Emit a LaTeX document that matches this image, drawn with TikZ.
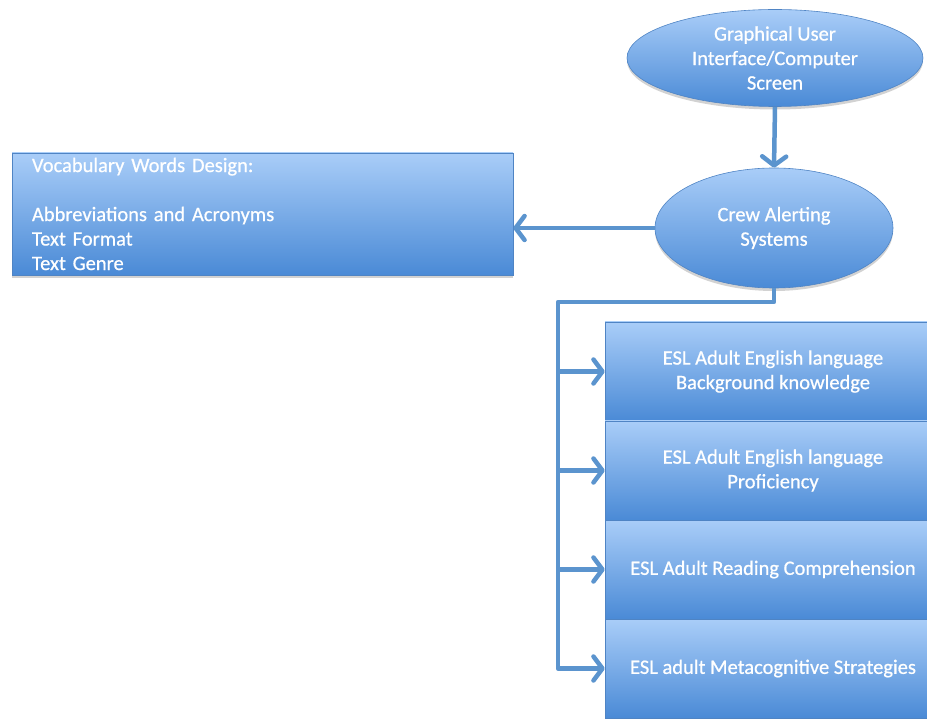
\documentclass[tikz,border=0pt]{standalone}
\usepackage{fontspec}
\setmainfont{Carlito}
\newfontfamily\diagfont{Carlito}[FakeBold=0.7]
\usetikzlibrary{shapes.geometric,arrows.meta,shadows,calc}
\definecolor{boxtop}{HTML}{A9CDF8}
\definecolor{boxbot}{HTML}{4A8AD6}
\definecolor{edge}{HTML}{4F84C4}
\definecolor{connc}{HTML}{5B94CE}
\tikzset{
  basefill/.style={top color=boxtop, bottom color=boxbot, draw=edge, line width=0.6pt,
    text=white, font=\diagfont\fontsize{20.5}{24.5}\selectfont,
    drop shadow={shadow xshift=0pt, shadow yshift=-3pt, opacity=0.25, fill=black!70}},
  oval/.style={basefill, ellipse, inner sep=0pt, align=center},
  listbox/.style={basefill, rectangle, inner sep=0pt, align=center,
    minimum width=336pt, minimum height=99pt},
  conn/.style={draw=connc, line width=4.5pt, line join=round},
  connarrow/.style={conn, -{Straight Barb[length=9pt,width=24pt,round]}}
}
\begin{document}
\begin{tikzpicture}[x=1pt,y=-1pt]
\useasboundingbox (0,0) rectangle (927,719);

% top level and alerting system
\node[oval, minimum width=296pt, minimum height=97pt] (gui) at (775,58)
  {Graphical User\\Interface/Computer\\Screen};
\node[oval, minimum width=238pt, minimum height=120pt] (crew) at (774,228)
  {Crew Alerting\\Systems};

% vocabulary design panel
\node[basefill, rectangle, minimum width=501pt, minimum height=122pt,
  text width=461pt, inner xsep=20pt, inner ysep=0pt, align=left] (vocab) at (262.5,214)
  {Vocabulary Words Design:\\[24.5pt]Abbreviations and Acronyms\\Text Format\\Text Genre};

% learner factors
\node[listbox] (b1) at (773,371.5) {ESL Adult English language\\Background knowledge};
\node[listbox] (b2) at (773,470.5) {ESL Adult English language\\Proficiency};
\node[listbox] (b3) at (773,569.5) {ESL Adult Reading Comprehension};
\node[listbox] (b4) at (773,668.5) {ESL adult Metacognitive Strategies};

% connectors
\coordinate (bus) at (558,302);
\draw[connarrow] (gui.south) -- (crew.north);
\draw[connarrow] (crew.west) -- (crew.west -| vocab.east);
\draw[connarrow] (crew.south) |- (bus) |- (b4.west);
\draw[connarrow] (bus |- b1.west) -- (b1.west);
\draw[connarrow] (bus |- b2.west) -- (b2.west);
\draw[connarrow] (bus |- b3.west) -- (b3.west);
\end{tikzpicture}
\end{document}
